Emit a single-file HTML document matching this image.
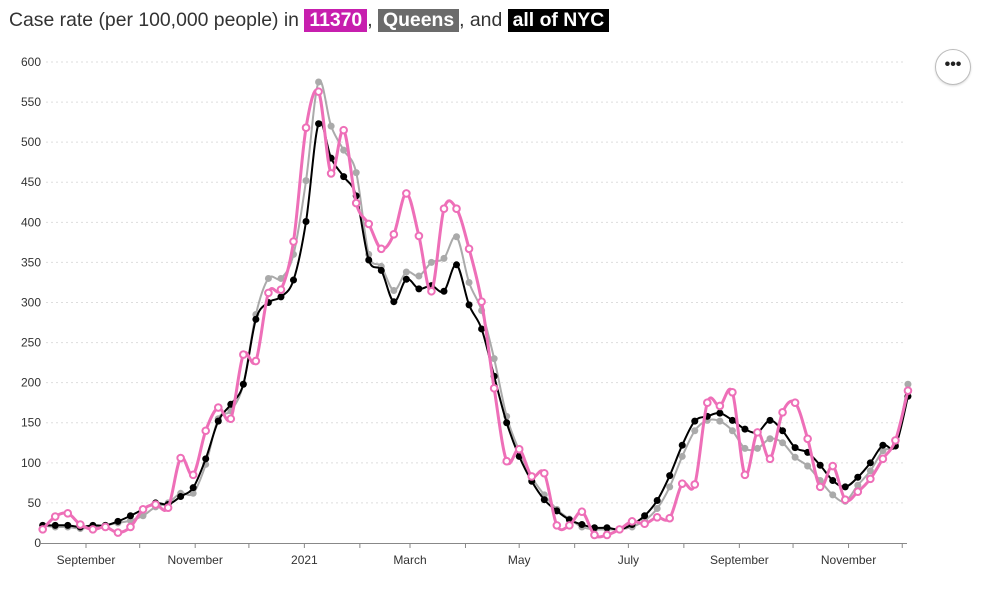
<!DOCTYPE html>
<html><head><meta charset="utf-8"><style>
body{margin:0;background:#fff;font-family:"Liberation Sans",sans-serif;}
#title{position:absolute;left:9px;top:9px;font-size:19.4px;line-height:23px;color:#333;white-space:nowrap}
.b{color:#fff;font-weight:bold;padding:0 5px;display:inline-block;line-height:23px}
#menu{position:absolute;left:935px;top:49px;width:34px;height:34px;border:1px solid #bbb;border-radius:50%;text-align:center;line-height:30px;font-size:16px;font-weight:bold;color:#222;box-shadow:0 1px 2px rgba(0,0,0,.15)}
</style></head><body>
<div id="title">Case rate (per 100,000 people) in <span class="b" style="background:#c71fae">11370</span>, <span class="b" style="background:#6b6b6b">Queens</span>, and <span class="b" style="background:#000">all of NYC</span></div>
<div id="menu">•••</div>
<svg id="chart" width="988" height="602" style="position:absolute;left:0;top:0"></svg>
<script>
const yTicks=[0,50,100,150,200,250,300,350,400,450,500,550,600];
const monthLabels=["September","November","2021","March","May","July","September","November"];
const zipValues=[17,33,37,23,17,20,13,20,42,48,44,106,85,140,169,155,235,227,312,316,376,518,563,461,515,424,398,367,385,436,383,314,417,417,367,301,193,102,117,83,87,22,22,39,10,10,17,27,24,32,31,74,73,175,171,188,85,138,105,163,175,130,70,96,54,64,80,105,128,190];
const queensValues=[22,20,20,18,20,22,25,28,34,45,50,62,62,98,155,165,198,285,330,330,360,452,575,520,490,462,360,345,315,338,333,350,355,382,325,290,230,158,115,82,60,42,30,20,17,17,17,20,28,43,70,108,140,153,152,140,118,118,130,125,107,96,78,60,52,72,90,115,125,198];
const nycValues=[22,22,22,20,22,22,27,34,42,50,48,58,69,105,152,173,198,279,300,307,328,401,523,480,457,433,353,340,301,329,317,321,314,347,297,267,208,150,108,77,54,40,29,23,19,19,17,23,34,53,84,122,152,158,162,153,142,138,153,140,119,113,97,78,70,82,100,122,121,183];
const NS="http://www.w3.org/2000/svg",svg=document.getElementById('chart');
const y=v=>543-v*0.8017, x=i=>42.7+i*12.54;
const dx=d=>86+d*1.79;
function mk(t,a,p){const e=document.createElementNS(NS,t);for(const k in a)e.setAttribute(k,a[k]);(p||svg).appendChild(e);return e;}
yTicks.forEach(v=>{
 if(v>0){const g=mk('line',{x1:46,x2:906,y1:y(v),y2:y(v),stroke:'#ddd','stroke-dasharray':'2,3'});
 
 }
 const t=mk('text',{x:41,y:y(v)+4,'text-anchor':'end','font-size':12,fill:'#333'});t.textContent=v;
 
 
});
const ax=mk('line',{x1:40,x2:907,y1:543.5,y2:543.5,stroke:'#888'});


for(let m=0;m<16;m++){
 const d=new Date(Date.UTC(2020,8+m,1)),days=(d-Date.UTC(2020,8,1))/864e5,px=dx(days);
 const tk=mk('line',{x1:px,x2:px,y1:543,y2:548,stroke:'#888'});
 
 
 if(m%2==0&&m/2<monthLabels.length){const t=mk('text',{x:px,y:564,'text-anchor':'middle','font-size':12,fill:'#333'});t.textContent=monthLabels[m/2];
 
 }
}
function path(vals){const p=vals.map((v,i)=>[x(i),y(v)]);let d='M'+p[0];for(let i=0;i<p.length-1;i++){const p0=p[i-1]||p[i],p1=p[i],p2=p[i+1],p3=p[i+2]||p2;
 d+='C'+(p1[0]+(p2[0]-p0[0])/6)+','+(p1[1]+(p2[1]-p0[1])/6)+' '+(p2[0]-(p3[0]-p1[0])/6)+','+(p2[1]-(p3[1]-p1[1])/6)+' '+p2;}return d;}
function series(vals,color,w,name,open){
 const l=mk('path',{d:path(vals),fill:'none',stroke:color,'stroke-width':w});
 
 
 vals.forEach((v,i)=>{const c=mk('circle',{cx:x(i),cy:y(v),r:open?3.3:3.5,fill:open?'#fff':color,stroke:open?color:'none','stroke-width':2});
 
 });
}
series(queensValues,'#aaa',2,'queens',false);
series(nycValues,'#000',2,'nyc',false);
series(zipValues,'#ee6fb8',3,'zip-11370',true);
</script></body></html>
